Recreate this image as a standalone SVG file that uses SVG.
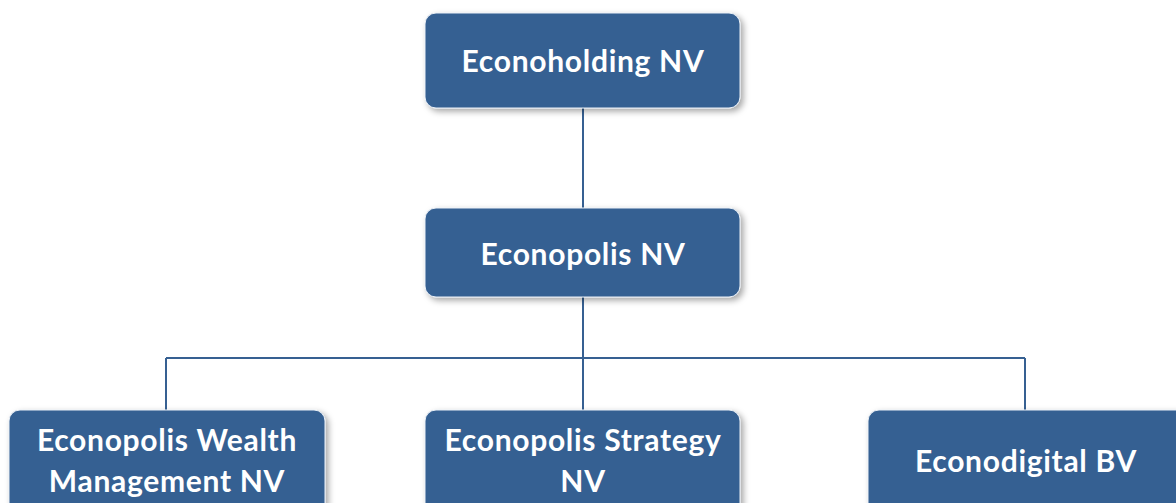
<svg xmlns="http://www.w3.org/2000/svg" width="1176" height="503" viewBox="0 0 1176 503">
<defs>
<filter id="sh" x="-10%" y="-20%" width="125%" height="150%">
<feDropShadow dx="3" dy="3" stdDeviation="3" flood-color="#000" flood-opacity="0.35"/>
</filter>
<style>
.box{fill:#366092;stroke:#e8eef5;stroke-width:1;filter:url(#sh)}
.t{font-family:Lato,"Open Sans",sans-serif;font-weight:bold;font-size:30px;letter-spacing:0.7px;fill:#fff;text-anchor:middle}
.c{stroke:#366092;stroke-width:2;fill:none}
</style>
</defs>
<rect width="1176" height="503" fill="#fff"/>
<g id="connectors">
<path class="c" d="M583 108V208M583 297V358M166 358H1025M166 358V410M583 358V410M1025 358V410"/>
</g>
<g id="n-econoholding"><rect class="box" x="425" y="13" width="315" height="95" rx="11"/><text class="t" x="583" y="72">Econoholding NV</text></g>
<g id="n-econopolis"><rect class="box" x="425" y="208" width="315" height="89" rx="11"/><text class="t" x="583" y="265">Econopolis NV</text></g>
<g id="n-wealth"><rect class="box" x="9" y="410" width="316" height="110" rx="11"/><text class="t" x="167" y="451">Econopolis Wealth</text><text class="t" x="167" y="492">Management NV</text></g>
<g id="n-strategy"><rect class="box" x="425" y="410" width="315" height="110" rx="11"/><text class="t" x="583" y="451">Econopolis Strategy</text><text class="t" x="583" y="492">NV</text></g>
<g id="n-digital"><rect class="box" x="868" y="410" width="320" height="110" rx="11"/><text class="t" x="1026" y="472">Econodigital BV</text></g>
</svg>
